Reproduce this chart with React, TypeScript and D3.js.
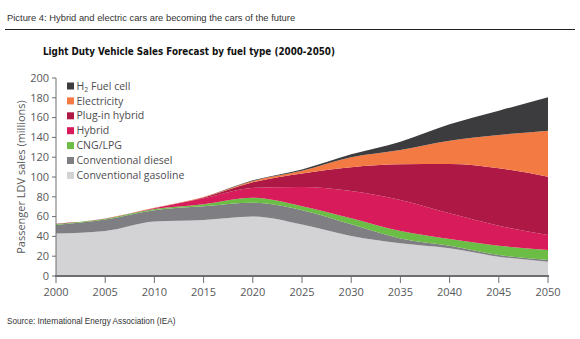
import React from "react";
import * as d3 from "d3";

const years = [2000, 2005, 2010, 2015, 2020, 2025, 2030, 2035, 2040, 2045, 2050];
const gasoline = [43, 45.5, 55, 56.5, 60, 52, 40.5, 33, 28, 19.5, 14.5];
const diesel = [8.5, 11.5, 11.5, 14, 14, 14.5, 11.8, 5, 2.6, 1.7, 1.7];
const cng = [1, 0.8, 1.2, 2, 5, 4, 6, 7.4, 6.8, 9.4, 10.1];
const hybrid = [0.2, 0.3, 0.8, 6, 10, 19.5, 27.6, 31.4, 26, 20.2, 15.1];
const plugin = [0, 0.1, 0.3, 0.8, 5.6, 13.5, 24, 36, 49.7, 58, 58.9];
const electricity = [0, 0, 0.1, 0.4, 1.4, 2.8, 10, 14.5, 23.4, 33.6, 46.5];
const fuelCell = [0, 0, 0, 0.1, 0.6, 1.4, 3, 8.4, 16.8, 24.6, 33.7];

const seriesKeys = ["gasoline", "diesel", "cng", "hybrid", "plugin", "electricity", "fuelCell"];
const seriesValues = [gasoline, diesel, cng, hybrid, plugin, electricity, fuelCell];
const seriesColors = ["#d3d3d5", "#7e7e83", "#6cbd45", "#d81b5b", "#ad1944", "#f47a44", "#3c3c3e"];
const legendLabels = ["H2 Fuel cell", "Electricity", "Plug-in hybrid", "Hybrid", "CNG/LPG", "Conventional diesel", "Conventional gasoline"];
const yTicks = [0, 20, 40, 60, 80, 100, 120, 140, 160, 180, 200];
const xTicks = [2000, 2005, 2010, 2015, 2020, 2025, 2030, 2035, 2040, 2045, 2050];

export default function App() {
  const x = d3.scaleLinear().domain([2000, 2050]).range([56, 548]);
  const y = d3.scaleLinear().domain([0, 200]).range([276, 78]);
  const table = years.map((yr, i) => {
    const row: any = { year: yr };
    seriesKeys.forEach((k, j) => (row[k] = seriesValues[j][i]));
    return row;
  });
  const stacked = d3.stack().keys(seriesKeys)(table);
  const area = d3
    .area<any>()
    .x((d) => x(d.data.year))
    .y0((d) => y(d[0]))
    .y1((d) => y(d[1]))
    .curve(d3.curveMonotoneX);

  const legendColors = seriesColors.slice().reverse();
  const font = "'Open Sans', 'Noto Sans', sans-serif";
  const axisColor = "#6d6e71";
  const labelColor = "#58595b";

  return (
    <svg width={580} height={339} style={{ position: "absolute", left: 0, top: 0, background: "#fff" }}>
      <text x={7} y={21} fontFamily="'Liberation Sans', Arial, sans-serif" fontSize={9.4} fill="#333">
        Picture 4: Hybrid and electric cars are becoming the cars of the future
      </text>
      <line x1={5} x2={575} y1={29.5} y2={29.5} stroke="#222" strokeWidth={1} />
      <text
        x={43}
        y={55}
        fontFamily="'DejaVu Sans', Verdana, sans-serif"
        fontWeight="bold"
        fontSize={10.8}
        fill="#111"
        textLength={292}
        lengthAdjust="spacingAndGlyphs"
      >
        Light Duty Vehicle Sales Forecast by fuel type (2000-2050)
      </text>

      {stacked.map((s, i) => (
        <path key={s.key} d={area(s as any) || ""} fill={seriesColors[i]} />
      ))}

      {/* axes */}
      <line x1={56} x2={56} y1={y(200)} y2={y(0)} stroke={axisColor} strokeWidth={1} />
      {yTicks.map((t) => (
        <g key={t}>
          <line x1={52} x2={56} y1={y(t)} y2={y(t)} stroke={axisColor} strokeWidth={1} />
          <text x={49} y={y(t)} dy="0.35em" textAnchor="end" fontFamily={font} fontSize={11} fill={labelColor}>
            {t}
          </text>
        </g>
      ))}
      <line x1={55} x2={549} y1={y(0)} y2={y(0)} stroke={axisColor} strokeWidth={2} />
      {xTicks.map((t) => (
        <g key={t}>
          <line x1={x(t)} x2={x(t)} y1={y(0)} y2={y(0) + 7} stroke={axisColor} strokeWidth={1} />
          <text x={x(t)} y={296} textAnchor="middle" fontFamily={font} fontSize={11} fill={labelColor}>
            {t}
          </text>
        </g>
      ))}
      <text
        transform={`translate(25,${y(100)}) rotate(-90)`}
        textAnchor="middle"
        fontFamily={font}
        fontSize={11}
        fill={labelColor}
      >
        Passenger LDV sales (millions)
      </text>

      {/* legend */}
      {legendLabels.map((lab, i) => {
        const cy = 86 + i * 14.9;
        return (
          <g key={lab}>
            <rect x={67} y={cy - 3.5} width={7} height={7} fill={legendColors[i]} />
            <text x={76.5} y={cy} dy="0.35em" fontFamily={font} fontSize={10.5} fill="#4d4d4f">
              {i === 0 ? (
                <>
                  H<tspan fontSize={7} dy={2}>2</tspan>
                  <tspan dy={-2}> Fuel cell</tspan>
                </>
              ) : (
                lab
              )}
            </text>
          </g>
        );
      })}

      <text x={7} y={324} fontFamily="'Liberation Sans', Arial, sans-serif" fontSize={8.2} fill="#333">
        Source: International Energy Association (IEA)
      </text>
    </svg>
  );
}
